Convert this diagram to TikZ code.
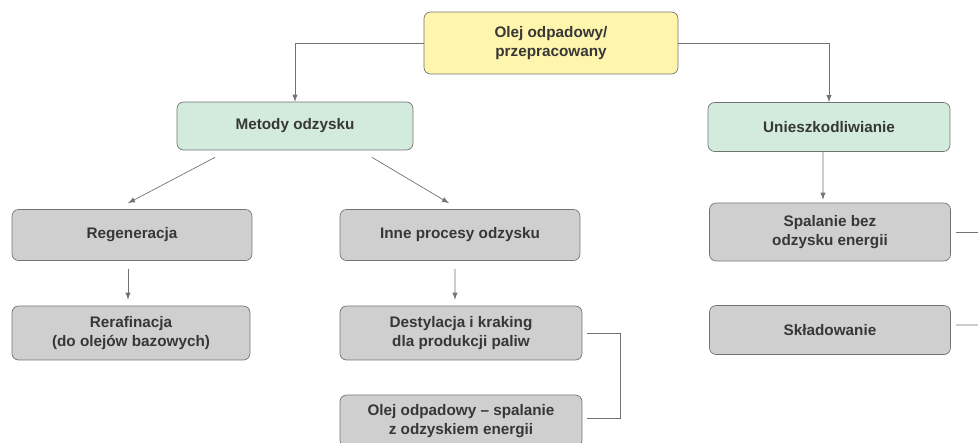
\documentclass[tikz,border=0pt]{standalone}
\usepackage{fontspec}
\setmainfont{Liberation Sans}
\usepackage{xcolor}
\usetikzlibrary{arrows}
\usetikzlibrary{positioning}
\definecolor{wyellow}{RGB}{255,245,172}
\definecolor{wgreen}{RGB}{211,235,220}
\definecolor{wgray}{RGB}{207,207,207}
\definecolor{wline}{RGB}{115,115,115}
\definecolor{wtext}{RGB}{55,55,55}

\begin{document}
\begin{tikzpicture}[x=0.02cm,y=-0.02cm,
  box/.style={draw=wline,rounded corners=0.13cm,align=center,
    text=wtext,font=\fontsize{8.7}{11}\selectfont\bfseries,
    minimum width=4.8cm,minimum height=1.0cm,inner sep=1pt},
  ybox/.style={box,fill=wyellow},
  gbox/.style={box,fill=wgreen},
  sbox/.style={box,fill=wgray},
  conn/.style={draw=wline,thin,-latex},
  link/.style={draw=wline,thin}]

\clip (0,0) rectangle (978,443);

% main node
\node[ybox,minimum width=5.08cm,minimum height=1.24cm] (olej) at (551,43) {Olej odpadowy/\\przepracowany};

% second level
\node[gbox,minimum width=4.72cm,minimum height=0.96cm] (metody) at (295,126) {Metody odzysku};
\node[gbox,minimum width=4.84cm,minimum height=0.98cm] (uniesz) at (829,127) {Unieszkodliwianie};

% odzysk
\node[sbox,minimum height=1.02cm] (regen) at (132,235) {Regeneracja};
\node[sbox,minimum height=1.02cm] (inne) at (460,235) {Inne procesy odzysku};
\node[sbox,minimum width=4.76cm,minimum height=1.08cm] (rera) at (131,333) {Rerafinacja\\(do olejów bazowych)};
\node[sbox,minimum width=4.84cm,minimum height=1.08cm] (destyl) at (461,333) {Destylacja i kraking\\dla produkcji paliw};
\node[sbox,minimum width=4.84cm,minimum height=1.04cm] (spal) at (461,421) {Olej odpadowy -- spalanie\\z odzyskiem energii};

% unieszkodliwianie
\node[sbox,minimum width=4.82cm,minimum height=1.16cm] (bez) at (830,232) {Spalanie bez\\odzysku energii};
\node[sbox,minimum width=4.82cm,minimum height=0.98cm] (sklad) at (830,330) {Składowanie};

\coordinate (r1) at (978,232);
\coordinate (r2) at (978,325);

% connectors
\draw[conn] (olej.west) -| (metody.north);
\draw[conn] (olej.east) -| (uniesz.north);

\draw[conn] ([xshift=-1.6cm,yshift=-0.14cm]metody.south) -- ([xshift=-0.08cm,yshift=0.12cm]regen.north);
\draw[conn] ([xshift=1.54cm,yshift=-0.14cm]metody.south) -- ([xshift=-0.22cm,yshift=0.12cm]inne.north);

\draw[conn] ([xshift=-0.08cm,yshift=-0.16cm]regen.south) -- ([xshift=-0.06cm,yshift=0.12cm]rera.north);
\draw[conn] ([xshift=-0.1cm,yshift=-0.16cm]inne.south) -- ([xshift=-0.12cm,yshift=0.12cm]destyl.north);
\draw[conn] ([xshift=-0.12cm]uniesz.south) -- ([xshift=-0.14cm,yshift=0.06cm]bez.north);

\draw[link] ([xshift=0.1cm]destyl.east) -- ++(0.66cm,0) |- ([xshift=0.1cm,yshift=0.06cm]spal.east);

\draw[link] ([xshift=0.1cm]bez.east) -- (r1);
\draw[link] ([xshift=0.1cm,yshift=0.1cm]sklad.east) -- (r2);

\end{tikzpicture}
\end{document}
